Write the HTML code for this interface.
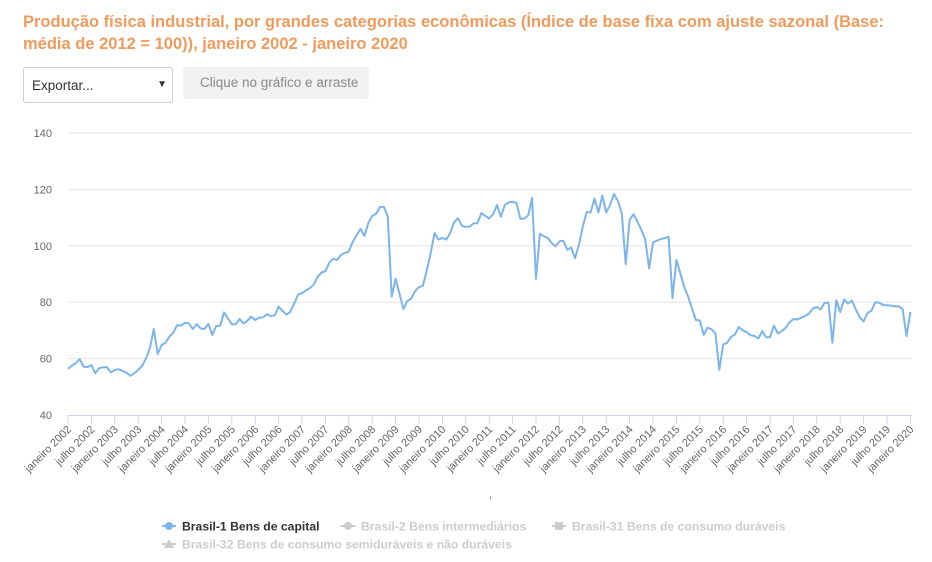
<!DOCTYPE html>
<html><head><meta charset="utf-8">
<style>
body{margin:0;width:932px;height:562px;background:#fff;font-family:"Liberation Sans",sans-serif;overflow:hidden;position:relative}
#title{position:absolute;left:23px;top:11px;width:900px;color:#f09a5c;font-weight:bold;font-size:16.5px;line-height:22px}
#export{position:absolute;left:23px;top:67px;width:150px;height:36px;border:1px solid #ccc;border-radius:3px;box-sizing:border-box;font-size:13.5px;color:#333;padding:10px 0 0 8px}
#export span{position:absolute;right:5px;top:11px;font-size:10px}
#drag{position:absolute;left:183px;top:67px;width:186px;height:32px;background:#f2f2f2;border-radius:3px;color:#888;font-size:13.5px;box-sizing:border-box;padding:8px 0 0 17px}
svg{position:absolute;left:0;top:0}
</style></head><body>
<div id="title">Produção física industrial, por grandes categorias econômicas (Índice de base fixa com ajuste sazonal (Base: média de 2012 = 100)), janeiro 2002 - janeiro 2020</div>
<div id="export">Exportar...<span>▼</span></div>
<div id="drag">Clique no gráfico e arraste</div>
<svg id="chart" width="932" height="562"></svg>
<script>
const yTicks=[40,60,80,100,120,140];
const startYear=2002;
const values=[
56.4,57.5,58.4,59.8,57.2,57,57.7,54.8,56.6,56.9,57,55.1,
56,56.2,55.6,55,53.9,54.8,56,57.4,60.1,63.7,70.5,61.6,
64.8,65.6,67.8,69.2,71.9,71.7,72.7,72.5,70.5,72.2,70.7,70.5,
72.3,68.4,71.6,71.6,76.4,74.3,72.2,72.2,74,72.5,73.4,74.9,
73.7,74.5,74.6,75.7,75.1,75.3,78.4,76.9,75.6,76.6,79.5,82.7,
83.2,84.2,85,86.2,89,90.5,91,94,95.4,95,96.8,97.5,
98,101.4,103.7,106,103.5,108,110.6,111.3,113.8,113.8,110.3,82,
88.3,83,77.6,80.4,81.3,83.9,85.4,85.8,91.4,97.4,104.5,102.2,
102.8,102.2,104.5,108.3,109.8,107.1,106.7,106.8,108,108,111.6,110.6,
109.7,111.2,114.5,110.3,114.5,115.4,115.6,115.2,109.6,109.6,110.8,117,
88.3,104.3,103.4,102.8,101,99.8,101.6,101.8,98.6,99.4,95.6,100.3,
106.8,112,111.8,116.7,111.8,117.8,111.8,114.5,118.4,116,111.5,93.5,
109.2,111.2,108.6,105.6,102.3,92,101.2,101.8,102.4,102.7,103.2,81.5,
95,90.3,85.5,82,77.8,73.7,73.5,68.4,71,70.4,69,56,
65,65.6,67.7,68.5,71.2,70,69.4,68.3,68,67.1,69.7,67.6,
67.6,71.7,68.9,69.7,70.9,72.9,74,73.9,74.5,75.1,76,77.8,
78.3,77.4,79.8,79.8,65.6,80.7,76.5,81,79.5,80.6,77.4,74.7,
73.2,76.2,77,80,79.8,79,78.9,78.8,78.5,78.5,77.6,68,
76.6];
const legendLabels=["Brasil-1 Bens de capital","Brasil-2 Bens intermediários","Brasil-31 Bens de consumo duráveis","Brasil-32 Bens de consumo semiduráveis e não duráveis"];
const NS="http://www.w3.org/2000/svg";
const svg=document.getElementById('chart');
const X0=68,X1=910.4,Y0=415,Y1=133;
const xs=i=>X0+(X1-X0)*i/(values.length-1);
const ys=v=>Y0-(v-40)/(140-40)*(Y0-Y1);
function mk(t,a){const e=document.createElementNS(NS,t);for(const k in a)e.setAttribute(k,a[k]);svg.appendChild(e);return e;}
yTicks.forEach(t=>{
  if(t>40){const g=mk('line',{x1:X0,x2:912,y1:ys(t),y2:ys(t),stroke:'#e6e6e6','stroke-width':1});
  
  }
  const l=mk('text',{x:52,y:ys(t)+4,'text-anchor':'end','font-size':11,fill:'#666'});
  
  
  l.textContent=t;
});
const ax=mk('line',{x1:X0,x2:912,y1:Y0+0.5,y2:Y0+0.5,stroke:'#ccd6eb','stroke-width':1});


for(let i=0;i<values.length;i+=6){
  const x=xs(i);
  const tk=mk('line',{x1:x,x2:x,y1:Y0,y2:Y0+9,stroke:'#ccd6eb'});
  
  
  const yr=startYear+Math.floor(i/12);
  const lab=(i%12===0?'janeiro ':'julho ')+yr;
  const tx=mk('text',{x:x+4,y:Y0+15,'text-anchor':'end','font-size':11,fill:'#666',transform:`rotate(-45 ${x+4} ${Y0+15})`});
  
  
  tx.textContent=lab;
}
const c=mk('text',{x:489,y:498,'font-size':11,fill:'#666'});c.textContent=',';


const p=mk('path',{d:values.map((v,i)=>(i?'L':'M')+xs(i).toFixed(1)+' '+ys(v).toFixed(1)).join(''),fill:'none',stroke:'#7cb5ec','stroke-width':2,'stroke-linejoin':'round'});


const lp=[[162,526],[341,526],[552,526],[162,544]];
const colors=['#7cb5ec','#ccc','#ccc','#ccc'];
legendLabels.forEach((t,i)=>{
  const [x,y]=lp[i];
  const ln=mk('line',{x1:x,x2:x+14,y1:y,y2:y,stroke:colors[i],'stroke-width':2});
  
  
  let m;
  if(i===0||i===1)m=mk('circle',{cx:x+7,cy:y,r:4,fill:colors[i]});
  else if(i===2)m=mk('rect',{x:x+3,y:y-4,width:8,height:8,fill:colors[i]});
  else m=mk('path',{d:`M${x+7} ${y-5}L${x+12} ${y+4}L${x+2} ${y+4}Z`,fill:colors[i]});
  
  
  const tx=mk('text',{x:x+20,y:y+4.5,'font-size':12.2,'font-weight':'bold',fill:i===0?'#333':'#ccc'});
  
  
  tx.textContent=t;
});
</script>
</body></html>
